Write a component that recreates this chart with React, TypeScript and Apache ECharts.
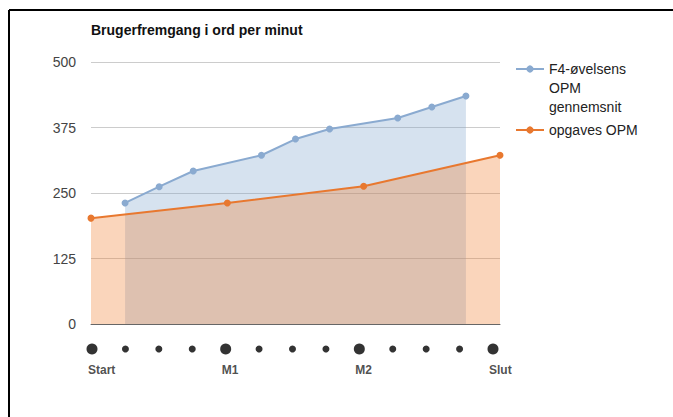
import React, { useEffect, useRef } from "react";
import * as echarts from "echarts";

const categories = ["0", "1", "2", "3", "4", "5", "6", "7", "8", "9", "10", "11", "12"];
const blueName = "F4-øvelsens OPM gennemsnit";
const orangeName = "opgaves OPM";
const blueValues: (number | null)[] = [null, 231, 262, 292, null, 322, 353, 372, null, 393, 414, 435, null];
const orangeValues: (number | null)[] = [202, null, null, null, 231, null, null, null, 263, null, null, null, 322];
const yTicks = [0, 125, 250, 375, 500];
const milestoneLabels = ["Start", "", "", "", "M1", "", "", "", "M2", "", "", "", "Slut"];
const milestoneMajor = [true, false, false, false, true, false, false, false, true, false, false, false, true];

export default function App() {
  const ref = useRef<HTMLDivElement>(null);
  useEffect(() => {
    if (!ref.current) return;
    const chart = echarts.init(ref.current, undefined, { renderer: "svg" });
    const font = "Arial, 'Liberation Sans', sans-serif";
    chart.setOption({
      animation: false,
      backgroundColor: "#ffffff",
      title: {
        text: "Brugerfremgang i ord per minut",
        left: 91,
        top: 23,
        padding: 0,
        textStyle: { fontFamily: font, fontSize: 14, fontWeight: "bold", color: "#111" },
      },
      legend: [
        {
          data: [blueName],
          orient: "vertical",
          left: 515,
          top: 21.5,
          padding: 0,
          itemWidth: 28,
          itemHeight: 9,
          formatter: (n: string) => (n === blueName ? "{s|}\n{s|}\n{t|F4-øvelsens}\n{t|OPM}\n{t|gennemsnit}" : n),
          textStyle: {
            fontFamily: font,
            fontSize: 14,
            lineHeight: 19,
            color: "#222",
            rich: {
              s: { fontSize: 14, lineHeight: 19 },
              t: { fontFamily: font, fontSize: 14, lineHeight: 19, color: "#222" },
            },
          },
        },
        {
          data: [orangeName],
          orient: "vertical",
          left: 515,
          top: 120.5,
          padding: 0,
          itemWidth: 28,
          itemHeight: 9,
          textStyle: { fontFamily: font, fontSize: 14, lineHeight: 19, color: "#222" },
        },
      ],
      grid: [
        { left: 91, right: 173, top: 62, bottom: 93, containLabel: false },
        { left: 92, right: 180, top: 339, height: 20, containLabel: false },
      ],
      xAxis: [
        {
          type: "category",
          gridIndex: 0,
          data: categories,
          boundaryGap: false,
          axisLine: { show: true, lineStyle: { color: "#666", width: 1 } },
          axisTick: { show: false },
          axisLabel: { show: false },
          splitLine: { show: false },
        },
        {
          type: "category",
          gridIndex: 1,
          data: milestoneLabels,
          boundaryGap: false,
          show: false,
        },
      ],
      yAxis: [
        {
          type: "value",
          gridIndex: 0,
          min: 0,
          max: 500,
          interval: 125,
          axisLine: { show: false },
          axisTick: { show: false },
          axisLabel: {
            margin: 15,
            fontFamily: font,
            fontSize: 14,
            color: "#444",
            formatter: (v: number) => (yTicks.includes(v) ? String(v) : ""),
          },
          splitLine: { show: true, lineStyle: { color: "#cccccc", width: 1 } },
        },
        { type: "value", gridIndex: 1, min: -1, max: 1, show: false },
      ],
      series: [
        {
          name: blueName,
          type: "line",
          xAxisIndex: 0,
          yAxisIndex: 0,
          data: blueValues,
          connectNulls: true,
          symbol: "circle",
          symbolSize: 7,
          showSymbol: true,
          itemStyle: { color: "#8aaad0" },
          lineStyle: { color: "#8aaad0", width: 2 },
          areaStyle: { color: "#7fa4cd", opacity: 0.32 },
        },
        {
          name: orangeName,
          type: "line",
          xAxisIndex: 0,
          yAxisIndex: 0,
          data: orangeValues,
          connectNulls: true,
          symbol: "circle",
          symbolSize: 7,
          itemStyle: { color: "#e8782f" },
          lineStyle: { color: "#e8782f", width: 2 },
          areaStyle: { color: "#ef7c2a", opacity: 0.32 },
        },
        {
          name: "milestones",
          type: "scatter",
          xAxisIndex: 1,
          yAxisIndex: 1,
          data: milestoneLabels.map(() => 0),
          symbol: "circle",
          symbolSize: (_v: number, p: any) => (milestoneMajor[p.dataIndex] ? 11 : 7),
          itemStyle: { color: "#000" },
          label: {
            show: true,
            position: "bottom",
            distance: 9,
            align: "left",
            offset: [-4, 0],
            fontFamily: font,
            fontSize: 12,
            fontWeight: "bold",
            color: "#222",
            formatter: (p: any) => milestoneLabels[p.dataIndex],
          },
          silent: true,
        },
      ],
      graphic: [
        { type: "line", shape: { x1: 9, y1: 10, x2: 673, y2: 10 }, style: { stroke: "#000", lineWidth: 2 } },
        { type: "line", shape: { x1: 9, y1: 10, x2: 9, y2: 417 }, style: { stroke: "#000", lineWidth: 2 } },
      ],
    });
    return () => chart.dispose();
  }, []);
  return <div ref={ref} style={{ position: "fixed", left: 0, top: 0, width: 673, height: 417 }} />;
}
